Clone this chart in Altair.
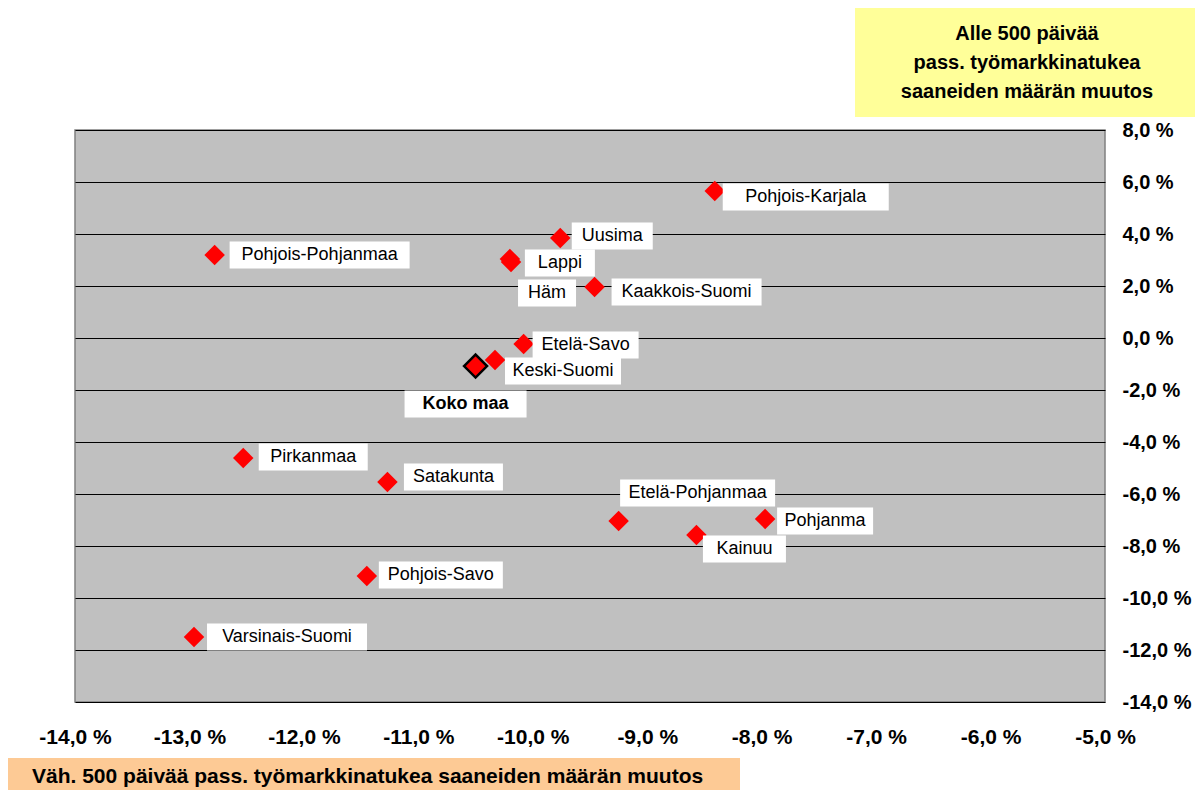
import altair as alt
import pandas as pd

# --- data ---
regions = ["Pohjois-Karjala", "Uusima", "Pohjois-Pohjanmaa", "Lappi", "Häm",
           "Kaakkois-Suomi", "Etelä-Savo", "Keski-Suomi", "Pirkanmaa", "Satakunta",
           "Etelä-Pohjanmaa", "Pohjanma", "Kainuu", "Pohjois-Savo", "Varsinais-Suomi"]
# x: change of those with >= 500 days (%), y: change of those with < 500 days (%)
x_vals = [-8.41, -9.76, -12.78, -10.20, -10.19, -9.46, -10.08, -10.33, -12.53, -11.27,
          -9.25, -7.97, -8.57, -11.45, -12.96]
y_vals = [5.65, 3.85, 3.19, 3.04, 2.92, 1.96, -0.23, -0.85, -4.62, -5.54,
          -7.04, -6.96, -7.58, -9.15, -11.50]
total_name = "Koko maa"
total_x = -10.50
total_y = -1.08

x_ticks = [-14, -13, -12, -11, -10, -9, -8, -7, -6, -5]
y_ticks = [-14, -12, -10, -8, -6, -4, -2, 0, 2, 4, 6, 8]

title_y = ["Alle 500 päivää", "pass. työmarkkinatukea", "saaneiden määrän muutos"]
title_x = "Väh. 500 päivää pass. työmarkkinatukea saaneiden määrän muutos"

# --- label placement (pixel offsets of label box centre from point, box widths) ---
lab_dx = [91, 52, 105, 50, 36, 92, 62, 68, 70, 66, 79, 60, 48, 74, 93]
lab_dy = [6, -2, 0, 4, 31, 5, 1, 11, -1, -5, -28, 2, 14, -1, 0]
lab_w = [166, 81, 180, 70, 58, 150, 106, 116, 109, 99, 155, 96, 83, 124, 160]
tot_dx, tot_dy, tot_w = -10, 38, 122
BH = 27

W, H = 1030, 572
XD = [-14, -5]
YD = [-14, 8]
PX_X = W / (XD[1] - XD[0])
PX_Y = H / (YD[1] - YD[0])

df = pd.DataFrame({"name": regions, "x": x_vals, "y": y_vals,
                   "dx": lab_dx, "dy": lab_dy, "bw": lab_w})
df["bold"] = 0
tot = pd.DataFrame({"name": [total_name], "x": [total_x], "y": [total_y],
                    "dx": [tot_dx], "dy": [tot_dy], "bw": [tot_w], "bold": [1]})
labels = pd.concat([df, tot], ignore_index=True)
labels["bx1"] = labels["x"] + (labels["dx"] - labels["bw"] / 2) / PX_X
labels["bx2"] = labels["x"] + (labels["dx"] + labels["bw"] / 2) / PX_X
labels["by1"] = labels["y"] - (labels["dy"] - BH / 2) / PX_Y
labels["by2"] = labels["y"] - (labels["dy"] + BH / 2) / PX_Y
labels["tx"] = labels["x"] + labels["dx"] / PX_X
labels["ty"] = labels["y"] - labels["dy"] / PX_Y

FONT = "Liberation Sans"
fmt = "(datum.value < 0 ? '-' : '') + replace(format(abs(datum.value), '.1f'), '.', ',') + ' %'"

xs = alt.Scale(domain=XD, nice=False, zero=False)
ys = alt.Scale(domain=YD, nice=False, zero=False)

xaxis = alt.Axis(values=x_ticks, labelExpr=fmt, title=None, domain=False, ticks=False,
                 grid=False, labelFont=FONT, labelFontSize=21, labelFontWeight="bold",
                 labelColor="black", labelPadding=24, orient="bottom",
                 labelFlush=False, labelOverlap=False)
yaxis = alt.Axis(values=y_ticks, labelExpr=fmt, title=None, domain=False, ticks=False,
                 grid=True, gridColor="black", gridWidth=1, gridOpacity=1,
                 labelFont=FONT, labelFontSize=20, labelFontWeight="bold",
                 labelColor="black", labelPadding=17, orient="right", labelAlign="left",
                 labelFlush=False, labelOverlap=False)

points = alt.Chart(df).mark_point(shape="diamond", filled=True, color="#ff0000", size=420,
                                  opacity=1).encode(
    x=alt.X("x:Q", scale=xs, axis=xaxis),
    y=alt.Y("y:Q", scale=ys, axis=yaxis),
)

total_pt = alt.Chart(tot).mark_point(shape="diamond", filled=True, fill="#ff0000",
                                     stroke="black", strokeWidth=2.5, size=530,
                                     opacity=1).encode(
    x=alt.X("x:Q", scale=xs), y=alt.Y("y:Q", scale=ys))

boxes = alt.Chart(labels).mark_rect(color="white").encode(
    x=alt.X("bx1:Q", scale=xs), x2="bx2:Q",
    y=alt.Y("by1:Q", scale=ys), y2="by2:Q")

texts = alt.Chart(labels).transform_filter("datum.bold == 0").mark_text(
    font=FONT, fontSize=18, color="black", align="center", baseline="middle").encode(
    x=alt.X("tx:Q", scale=xs), y=alt.Y("ty:Q", scale=ys), text="name:N")

texts_b = alt.Chart(labels).transform_filter("datum.bold == 1").mark_text(
    font=FONT, fontSize=18, fontWeight="bold", color="black", align="center",
    baseline="middle").encode(
    x=alt.X("tx:Q", scale=xs), y=alt.Y("ty:Q", scale=ys), text="name:N")

one = alt.Data(values=[{"a": 1}])

ybox = alt.Chart(one).mark_rect(color="#ffff99").encode(
    x=alt.value(780), x2=alt.value(1120), y=alt.value(-122), y2=alt.value(-13))
ytext = alt.Chart(one).mark_text(font=FONT, fontSize=20, fontWeight="bold",
                                 color="black", align="center", baseline="middle",
                                 lineHeight=29).encode(
    x=alt.value(952), y=alt.value(-96), text=alt.value(title_y))

xbox = alt.Chart(one).mark_rect(color="#fdca95").encode(
    x=alt.value(-67), x2=alt.value(665), y=alt.value(628), y2=alt.value(660))
xtext = alt.Chart(one).mark_text(font=FONT, fontSize=21, fontWeight="bold",
                                 color="black", align="left", baseline="middle").encode(
    x=alt.value(-43), y=alt.value(647), text=alt.value(title_x))

chart = alt.layer(points, total_pt, boxes, texts, texts_b, ybox, ytext, xbox, xtext).properties(
    width=W, height=H,
    autosize=alt.AutoSizeParams(type="none"),
    padding={"left": 67, "top": 122, "right": 90, "bottom": 88},
    background="white",
).configure_view(fill="#c0c0c0", stroke="#808080", strokeWidth=1.5)

chart.save("out.html", embed_options={"renderer": "svg", "actions": False})
